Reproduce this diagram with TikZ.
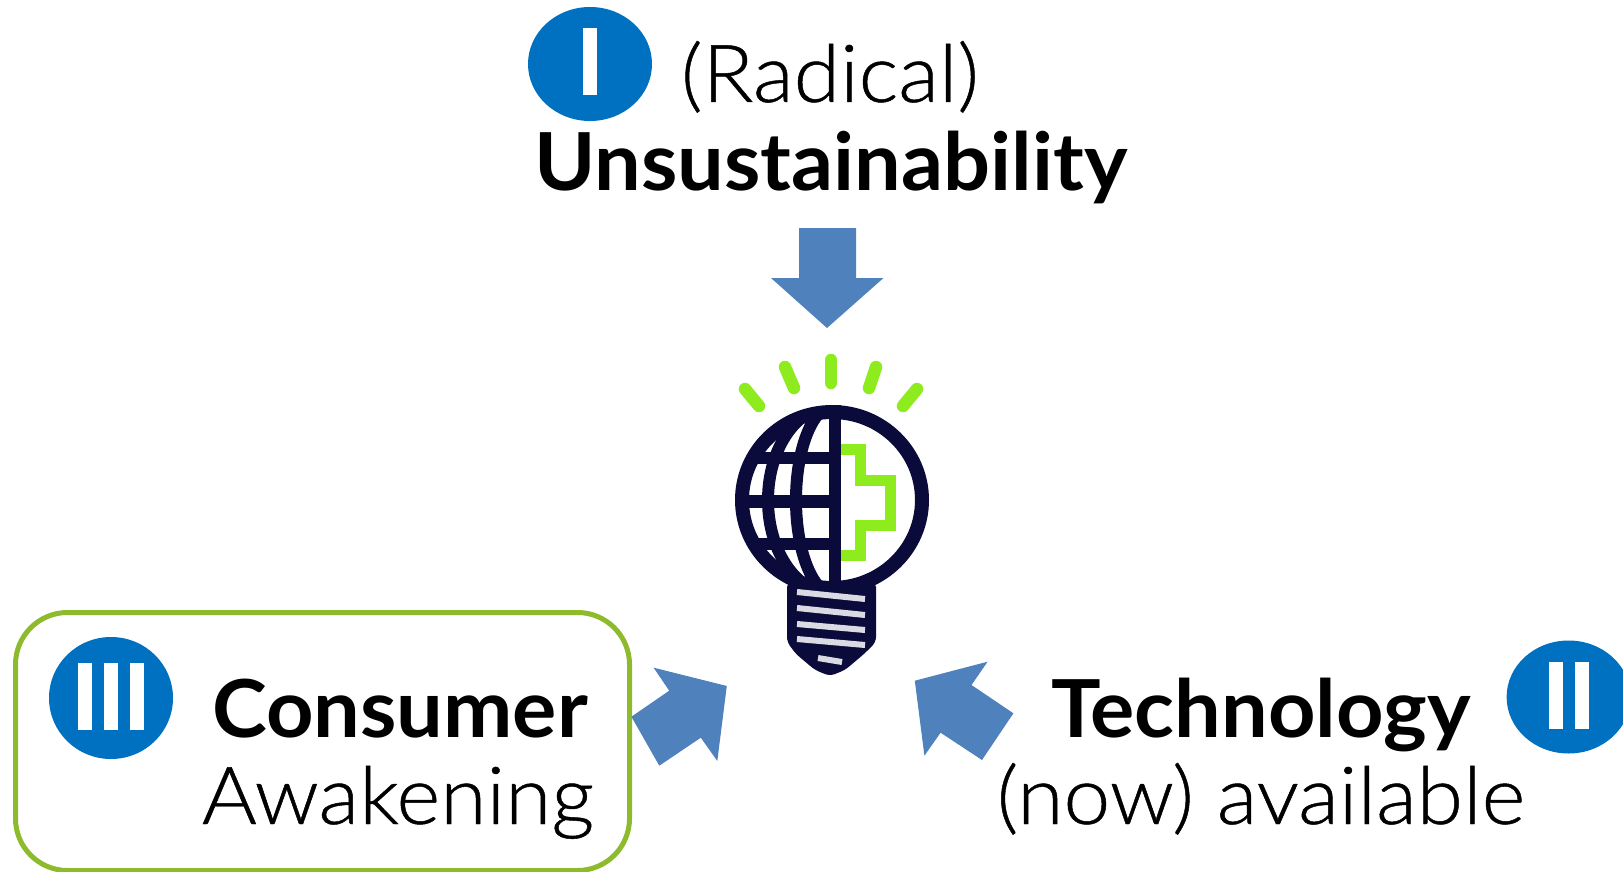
\documentclass[tikz,border=0pt]{standalone}
\usepackage{fontspec}
\setmainfont[BoldFeatures={FakeStretch=1.035}]{Lato}
\newfontfamily\thinfont[FakeStretch=1.05,FakeBold=0.6]{Lato Light}
\usetikzlibrary{shapes.geometric}
\definecolor{badgeblue}{HTML}{0070C0}
\definecolor{arrowblue}{HTML}{4F81BD}
\definecolor{boxgreen}{HTML}{8DBB2B}
\definecolor{lampgreen}{HTML}{8EEB1E}
\definecolor{lampnavy}{HTML}{0B0B3B}
\tikzset{
  badge/.style={ellipse, fill=badgeblue, inner sep=0pt},
  bar/.style={fill=white, inner sep=0pt, minimum width=14.5pt, minimum height=67pt},
  strong/.style={anchor=base, inner sep=0pt, font=\fontsize{80}{80}\bfseries\selectfont},
  weak/.style={anchor=base, inner sep=0pt, font=\fontsize{80}{80}\thinfont\selectfont},
  blockarrow/.style={fill=arrowblue},
  ray/.style={lampgreen, line width=12.5pt, line cap=round},
  grid/.style={lampnavy, line width=12pt},
  thread/.style={white!85!lampnavy, line width=6pt},
}
\begin{document}
\begin{tikzpicture}[x=1pt,y=-1pt]
\useasboundingbox (0,0) rectangle (1623,872);
\node[badge, minimum width=124pt, minimum height=114pt] (badgeone) at (590,64){};
\node[bar] (barone) at (590,61.5){};
\node[weak] (radical) at (830,102){(Radical)};
\node[strong] (unsustain) at (831,190){Unsustainability};
\fill[blockarrow] (799,228) -- (856,228) -- (856,278) -- (883.5,278) -- (827,328) -- (771,278) -- (799,278) -- cycle;
\draw[ray] (745,389) -- (759,406);
\draw[ray] (785,367) -- (794,388);
\draw[ray] (831,360) -- (831,383);
\draw[ray] (876,367) -- (869,388);
\draw[ray] (917,389) -- (903,406);
\draw[lampgreen, line width=11pt] (835,449) -- (860,449) -- (860,480) -- (890,480) -- (890,525) -- (860,525) -- (860,555) -- (835,555);
\begin{scope}
\clip (832,500) ellipse (90 and 88);
\clip (835,400) rectangle (730,590);
\draw[grid] (730,458) -- (835,458);
\draw[grid, line width=13pt] (730,501) -- (835,501);
\draw[grid] (730,544) -- (835,544);
\draw[grid] (835,500) ellipse (39 and 95);
\draw[grid] (835,500) ellipse (67 and 95);
\end{scope}
\draw[lampnavy, line width=14pt] (832,500) ellipse (90 and 88);
\draw[lampnavy, line width=12pt] (835,405) -- (835,590);
\fill[lampnavy, rounded corners=5pt] (787,582) -- (876,582) -- (876,642) -- (864,654) -- (845,670) -- (830,676) -- (815,670) -- (796,654) -- (787,642) -- cycle;
\draw[thread] (797,592) -- (865,599);
\draw[thread] (797,608) -- (865,615);
\draw[thread] (797,624) -- (865,630);
\draw[thread] (797,639) -- (865,645);
\draw[thread] (818,658) -- (842,662);
\node[badge, minimum width=124pt, minimum height=122pt] (badgethree) at (111,698){};
\node[bar] (barthreea) at (85,696.5){};
\node[bar] (barthreeb) at (111,696.5){};
\node[bar] (barthreec) at (137,696.5){};
\node[draw=boxgreen, line width=5pt, rounded corners=52pt, minimum width=614pt, minimum height=258pt, inner sep=0pt] (consumerbox) at (322.5,741.5){};
\node[strong] (consumer) at (400,737){Consumer};
\node[weak] (awakening) at (398,824){Awakening};
\fill[blockarrow] (653.6,667.7) -- (726.8,686) -- (717.3,761) -- (700.8,737.7) -- (659.3,765.7) -- (631.4,716.7) -- (669.2,690.7) -- cycle;
\fill[blockarrow] (987.6,661.7) -- (914.8,680.7) -- (924.4,755.7) -- (940.6,732.7) -- (982,760) -- (1013.4,713.3) -- (971.5,685) -- cycle;
\node[strong] (technology) at (1261,737){Technology};
\node[weak] (available) at (1261,824){(now) available};
\node[badge, minimum width=124pt, minimum height=113pt] (badgetwo) at (1568.6,697){};
\node[bar] (bartwoa) at (1556,695.5){};
\node[bar] (bartwob) at (1582,695.5){};
\end{tikzpicture}
\end{document}
